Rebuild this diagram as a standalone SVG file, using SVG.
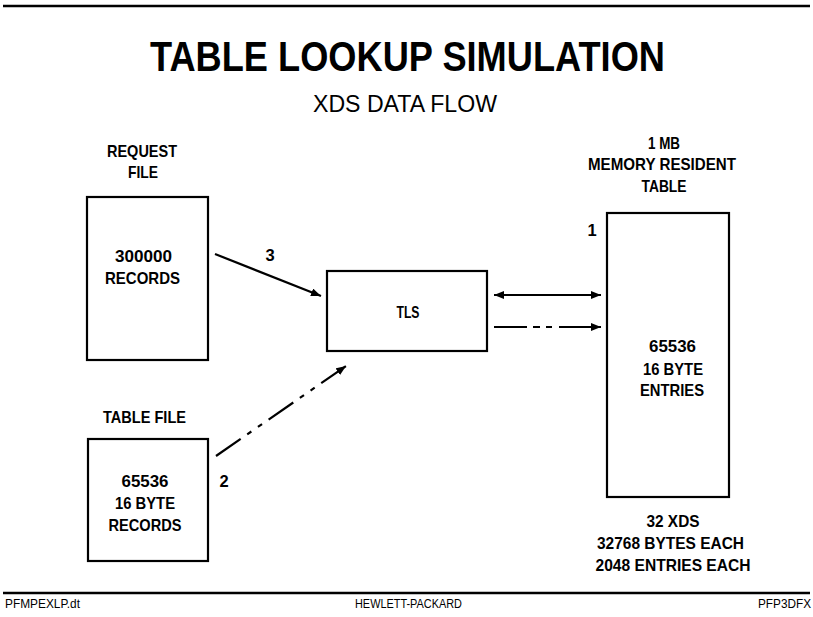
<svg xmlns="http://www.w3.org/2000/svg" width="813" height="617" viewBox="0 0 813 617">
  <style>
    .bg { fill: #ffffff; }
    .box { fill: none; stroke: #000; stroke-width: 2.2; }
    .rule { stroke: #000; stroke-width: 2.5; }
    .conn { fill: none; stroke: #000; stroke-width: 2.2; }
    .dash { stroke-dasharray: 30 8 5 8 5 8; }
    .hdash { stroke-dasharray: 33 6 7 6 6 7 200; }
    .lbl { font-family: "Liberation Sans", Arial, sans-serif; font-weight: bold; font-size: 16.5px; fill: #000; text-anchor: middle; }
    .title { font-family: "Liberation Sans", Arial, sans-serif; font-weight: bold; font-size: 43px; fill: #000; text-anchor: middle; }
    .sub { font-family: "Liberation Sans", Arial, sans-serif; font-size: 23px; fill: #000; text-anchor: middle; }
    .foot { font-family: "Liberation Sans", Arial, sans-serif; font-size: 12.5px; fill: #000; }
  </style>
  <defs>
    <marker id="ah" viewBox="0 0 10 8" refX="10" refY="4" markerWidth="10" markerHeight="8" markerUnits="userSpaceOnUse" orient="auto-start-reverse">
      <path d="M0,0 L10,4 L0,8 z" fill="#000" stroke="none"/>
    </marker>
  </defs>
  <rect class="bg" x="0" y="0" width="813" height="617"/>

  <g id="header">
    <line class="rule" x1="3" y1="6" x2="810" y2="6"/>
    <text class="title" x="407.5" y="71" textLength="515" lengthAdjust="spacingAndGlyphs">TABLE LOOKUP SIMULATION</text>
    <text class="sub" x="405" y="112" textLength="184" lengthAdjust="spacingAndGlyphs">XDS DATA FLOW</text>
  </g>

  <g id="request-file">
    <text class="lbl" x="142" y="157" textLength="70" lengthAdjust="spacingAndGlyphs">REQUEST</text>
    <text class="lbl" x="143" y="178" textLength="30" lengthAdjust="spacingAndGlyphs">FILE</text>
    <rect class="box" x="87" y="197" width="121" height="163"/>
    <text class="lbl" x="143.5" y="262" textLength="57" lengthAdjust="spacingAndGlyphs">300000</text>
    <text class="lbl" x="142.5" y="284" textLength="75" lengthAdjust="spacingAndGlyphs">RECORDS</text>
  </g>

  <g id="tls">
    <rect class="box" x="327" y="271" width="160" height="80"/>
    <text class="lbl" x="408" y="318" textLength="23" lengthAdjust="spacingAndGlyphs">TLS</text>
  </g>

  <g id="memory-table">
    <text class="lbl" x="664" y="149" textLength="32" lengthAdjust="spacingAndGlyphs">1 MB</text>
    <text class="lbl" x="662" y="170" textLength="148" lengthAdjust="spacingAndGlyphs">MEMORY RESIDENT</text>
    <text class="lbl" x="664" y="192" textLength="45" lengthAdjust="spacingAndGlyphs">TABLE</text>
    <rect class="box" x="607" y="213" width="122" height="284"/>
    <text class="lbl" x="672.5" y="352" textLength="47" lengthAdjust="spacingAndGlyphs">65536</text>
    <text class="lbl" x="673" y="375" textLength="60" lengthAdjust="spacingAndGlyphs">16 BYTE</text>
    <text class="lbl" x="672" y="396" textLength="64" lengthAdjust="spacingAndGlyphs">ENTRIES</text>
    <text class="lbl" x="673" y="527" textLength="53" lengthAdjust="spacingAndGlyphs">32 XDS</text>
    <text class="lbl" x="670.5" y="549" textLength="147" lengthAdjust="spacingAndGlyphs">32768 BYTES EACH</text>
    <text class="lbl" x="673" y="571" textLength="155" lengthAdjust="spacingAndGlyphs">2048 ENTRIES EACH</text>
  </g>

  <g id="table-file">
    <text class="lbl" x="144.5" y="423" textLength="83" lengthAdjust="spacingAndGlyphs">TABLE FILE</text>
    <rect class="box" x="88" y="439" width="120" height="122"/>
    <text class="lbl" x="145" y="487" textLength="47" lengthAdjust="spacingAndGlyphs">65536</text>
    <text class="lbl" x="145" y="509" textLength="60" lengthAdjust="spacingAndGlyphs">16 BYTE</text>
    <text class="lbl" x="145" y="531" textLength="73" lengthAdjust="spacingAndGlyphs">RECORDS</text>
  </g>

  <g id="connectors">
    <line class="conn" x1="215" y1="254" x2="321" y2="296" marker-end="url(#ah)"/>
    <text class="lbl" x="270" y="261">3</text>
    <line class="conn" x1="494" y1="295" x2="601" y2="295" marker-start="url(#ah)" marker-end="url(#ah)"/>
    <line class="conn hdash" x1="494" y1="327" x2="601" y2="327" marker-end="url(#ah)"/>
    <line class="conn dash" x1="216" y1="456" x2="346" y2="366" marker-end="url(#ah)"/>
    <text class="lbl" x="592" y="236">1</text>
    <text class="lbl" x="224" y="487">2</text>
  </g>

  <g id="footer">
    <line class="rule" x1="3" y1="593" x2="810" y2="593"/>
    <text class="foot" x="5" y="608" textLength="75" lengthAdjust="spacingAndGlyphs">PFMPEXLP.dt</text>
    <text class="foot" x="408.5" y="608" text-anchor="middle" textLength="107" lengthAdjust="spacingAndGlyphs">HEWLETT-PACKARD</text>
    <text class="foot" x="811" y="608" text-anchor="end" textLength="53" lengthAdjust="spacingAndGlyphs">PFP3DFX</text>
  </g>
</svg>
